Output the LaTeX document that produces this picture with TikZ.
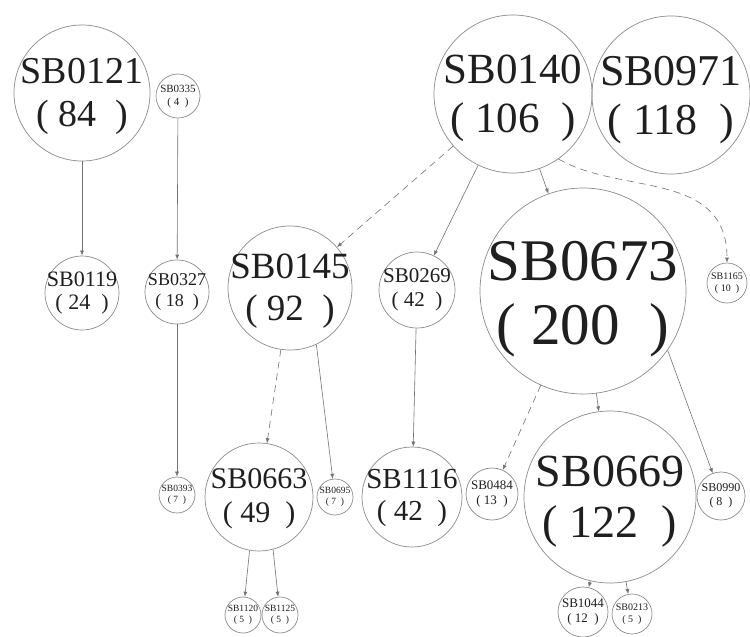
\documentclass[tikz,border=0pt]{standalone}
\usepackage{fontspec}
\setmainfont{Liberation Serif}
\usetikzlibrary{arrows.meta}
\newcommand\tx[2]{\smash{\makebox[0pt]{\raisebox{-0.25em}{\begin{tabular}{@{}c@{}}#1\\(\ #2\ \ )\end{tabular}}}}}
\tikzset{
  bub/.style n args={3}{circle, draw=black!45, line width=0.7pt, inner sep=0pt,
    minimum size=#1pt, font=\fontsize{#2}{#3}\selectfont, text=black!88},
  edge/.style={draw=black!55, line width=0.6pt, -{Latex[length=5pt,width=4pt]}},
  dedge/.style={edge, dash pattern=on 7pt off 5pt}
}
\begin{document}
\begin{tikzpicture}[x=1pt,y=-1pt]
\useasboundingbox[fill=white] (0,0) rectangle (750,637);
% top row
\node[bub={136}{38}{43}] (sb0121) at (82,93) {\tx{SB0121}{84}};
\node[bub={44}{11}{13}] (sb0335) at (178,96) {\tx{SB0335}{4}};
\node[bub={158}{43}{49}] (sb0140) at (513,94) {\tx{SB0140}{106}};
\node[bub={158}{44}{49}] (sb0971) at (671,95) {\tx{SB0971}{118}};
% middle row
\node[bub={74}{22}{23}] (sb0119) at (82,293) {\tx{SB0119}{24}};
\node[bub={64}{18}{21}] (sb0327) at (177,292) {\tx{SB0327}{18}};
\node[bub={124}{37}{42}] (sb0145) at (290,288) {\tx{SB0145}{92}};
\node[bub={76}{21}{24}] (sb0269) at (417,290) {\tx{SB0269}{42}};
\node[bub={206}{59}{64}] (sb0673) at (583,291) {\tx{SB0673}{200}};
\node[bub={40}{10}{12}] (sb1165) at (727,283) {\tx{SB1165}{10}};
% lower row
\node[bub={36}{9.5}{11}] (sb0393) at (177,495) {\tx{SB0393}{7}};
\node[bub={108}{30}{34}] (sb0663) at (259,497) {\tx{SB0663}{49}};
\node[bub={36}{9.5}{11}] (sb0695) at (335,497) {\tx{SB0695}{7}};
\node[bub={100}{29}{32}] (sb1116) at (412,497) {\tx{SB1116}{42}};
\node[bub={52}{13}{15}] (sb0484) at (492,494) {\tx{SB0484}{13}};
\node[bub={172}{46}{51}] (sb0669) at (610,497) {\tx{SB0669}{122}};
\node[bub={48}{12}{14}] (sb0990) at (721,496) {\tx{SB0990}{8}};
% bottom row
\node[bub={36}{9.5}{11}] (sb1120) at (243,615) {\tx{SB1120}{5}};
\node[bub={36}{9.5}{11}] (sb1125) at (280,615) {\tx{SB1125}{5}};
\node[bub={50}{13}{15}] (sb1044) at (583,612) {\tx{SB1044}{12}};
\node[bub={40}{10}{12}] (sb0213) at (632,614) {\tx{SB0213}{5}};
% edges
\draw[edge] (sb0121) -- (sb0119);
\draw[edge] (sb0335) -- (sb0327);
\draw[edge] (sb0327) -- (sb0393);
\draw[dedge] (sb0140) -- (sb0145);
\draw[edge] (sb0140) -- (sb0269);
\draw[edge] (sb0140) -- (sb0673);
\draw[dedge] (sb0140.-55) .. controls (620,195) and (727,170) .. (sb1165.north);
\draw[dedge] (sb0145) -- (sb0663);
\draw[edge] (sb0145.-65) -- (sb0695);
\draw[edge] (sb0269) -- (sb1116);
\draw[dedge] (sb0673) -- (sb0484);
\draw[edge] (sb0673) -- (sb0669);
\draw[edge] (sb0673.-35) -- (sb0990);
\draw[edge] (sb0663.-100) -- (sb1120);
\draw[edge] (sb0663.-75) -- (sb1125);
\draw[edge] (sb0669) -- (sb1044);
\draw[edge] (sb0669) -- (sb0213);
\end{tikzpicture}
\end{document}
